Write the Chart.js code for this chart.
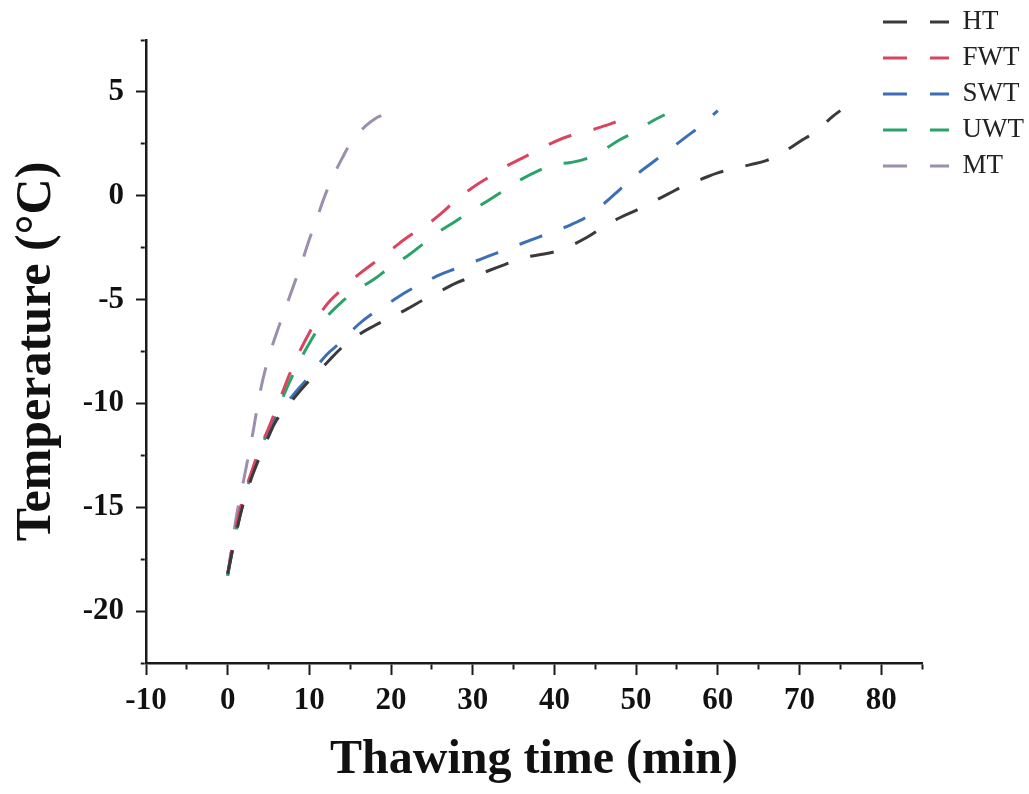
<!DOCTYPE html>
<html>
<head>
<meta charset="utf-8">
<script src="https://cdn.jsdelivr.net/npm/chart.js@4.4.1/dist/chart.umd.min.js"></script>
<style>
  html, body { margin: 0; padding: 0; background: #ffffff; }
  #wrap { width: 1029px; height: 794px; }
</style>
</head>
<body>
<div id="wrap"><canvas id="chartThaw" width="1029" height="794"></canvas></div>
<script>
// Datos (tiempo en min, temperatura en °C)
const htTime  = [0, 1, 2, 3, 4, 5, 6, 8, 10, 12, 14, 16, 18, 20, 22, 24, 26, 28, 30, 32, 34, 36, 38, 40, 42, 44, 46, 48, 50, 52, 54, 56, 58, 60, 62, 64, 66, 68, 70, 72, 74, 75];
const htTemp  = [-18.2, -16.3, -14.7, -13.5, -12.5, -11.6, -10.8, -9.8, -8.9, -8.1, -7.3, -6.7, -6.25, -5.85, -5.45, -5.0, -4.6, -4.2, -3.9, -3.6, -3.3, -3.0, -2.85, -2.7, -2.4, -2.0, -1.5, -1.06, -0.7, -0.3, 0.1, 0.5, 0.8, 1.1, 1.3, 1.5, 1.7, 2.1, 2.6, 3.1, 3.8, 4.1];

const fwtTime = [0, 1, 2, 3, 4, 5, 6, 8, 10, 12, 14, 16, 18, 20, 22, 24, 26, 28, 30, 32, 34, 36, 38, 40, 42, 44, 46, 47.5];
const fwtTemp = [-18.2, -16.0, -14.4, -13.2, -12.1, -11.2, -10.2, -8.2, -6.6, -5.3, -4.5, -3.8, -3.2, -2.6, -2.0, -1.5, -0.9, -0.2, 0.4, 0.9, 1.4, 1.8, 2.2, 2.6, 2.9, 3.1, 3.35, 3.55];

const swtTime = [0, 1, 2, 3, 4, 5, 6, 8, 10, 12, 14, 16, 18, 20, 22, 24, 26, 28, 30, 32, 34, 36, 38, 40, 42, 44, 46, 48, 50, 52, 54, 56, 58, 60];
const swtTemp = [-18.2, -16.3, -14.6, -13.4, -12.4, -11.4, -10.6, -9.6, -8.7, -7.7, -7.0, -6.2, -5.6, -5.1, -4.6, -4.2, -3.8, -3.5, -3.2, -2.9, -2.6, -2.3, -2.0, -1.7, -1.4, -1.0, -0.4, 0.3, 1.0, 1.6, 2.2, 2.8, 3.4, 4.1];

const uwtTime = [0, 1, 2, 3, 4, 5, 6, 8, 10, 12, 14, 16, 18, 20, 22, 24, 26, 28, 30, 32, 34, 36, 38, 40, 42, 44, 46, 48, 50, 52, 53.5];
const uwtTemp = [-18.3, -16.2, -14.6, -13.3, -12.2, -11.3, -10.4, -8.6, -7.1, -5.9, -5.1, -4.5, -4.0, -3.4, -2.9, -2.3, -1.7, -1.2, -0.7, -0.2, 0.3, 0.8, 1.2, 1.5, 1.6, 1.8, 2.2, 2.7, 3.1, 3.6, 3.9];

const mtTime  = [0, 1, 2, 3, 4, 5, 6, 7, 8, 9, 10, 11, 12, 13, 14, 15, 16, 17, 18, 19];
const mtTemp  = [-18.3, -15.6, -13.6, -11.6, -9.4, -7.8, -6.6, -5.5, -4.4, -3.3, -2.1, -1.0, 0.1, 1.0, 1.8, 2.5, 3.0, 3.4, 3.7, 3.9];

const seriesNames  = ['HT', 'FWT', 'SWT', 'UWT', 'MT'];
const seriesColors = ['#3a3a3a', '#d9455f', '#3b6fb6', '#2aa36b', '#9b8fae'];

const xTicks = { min: -10, max: 85, step: 5, labelEvery: 10 };
const yTicks = { min: -22.5, max: 7.5, step: 2.5, labelEvery: 5 };

function toPoints(times, temps) {
    return times.map((t, i) => ({ x: t, y: temps[i] }));
}

const allSeries = [
    toPoints(htTime, htTemp),
    toPoints(fwtTime, fwtTemp),
    toPoints(swtTime, swtTemp),
    toPoints(uwtTime, uwtTemp),
    toPoints(mtTime, mtTemp)
];

Chart.defaults.font.family = "'Liberation Serif', 'Times New Roman', serif";
Chart.defaults.color = '#111111';

const lineDash = [24, 23];

// mueve la leyenda arriba a la derecha, fuera del area del grafico
const moveLegend = {
    id: 'moveLegend',
    afterLayout(chart) {
        const lg = chart.legend;
        const w = lg.width, h = lg.height;
        lg.left = 874;
        lg.top = -0.5;
        lg.right = lg.left + w;
        lg.bottom = lg.top + h;
    }
};

const axisColor = '#1a1a1a';

function isMajor(ctx, every) {
    return ctx.tick && Math.abs(ctx.tick.value % every) < 1e-9;
}

new Chart(document.getElementById('chartThaw'), {
    type: 'line',
    data: {
        datasets: allSeries.map((pts, i) => ({
            label: seriesNames[i],
            data: pts,
            borderColor: seriesColors[i],
            backgroundColor: seriesColors[i],
            borderWidth: 3,
            borderDash: lineDash,
            pointRadius: 0,
            tension: 0.4,
            fill: false
        }))
    },
    options: {
        responsive: false,
        animation: false,
        layout: { padding: { top: 40, right: 107, left: 0, bottom: 0 } },
        plugins: {
            legend: {
                position: 'chartArea',
                align: 'start',
                labels: {
                    usePointStyle: true,
                    pointStyle: 'line',
                    pointStyleWidth: 66,
                    padding: 9,
                    textAlign: 'left',
                    color: '#222222',
                    font: { size: 27, lineHeight: 1.2 },
                    generateLabels(chart) {
                        const items = Chart.defaults.plugins.legend.labels.generateLabels(chart);
                        items.forEach(it => {
                            it.lineDash = lineDash;
                            it.lineWidth = 3;
                            it.strokeStyle = seriesColors[it.datasetIndex];
                        });
                        return items;
                    }
                }
            },
            tooltip: { enabled: false }
        },
        scales: {
            x: {
                type: 'linear',
                min: xTicks.min,
                max: xTicks.max,
                afterFit(scale) { scale.height = 131; },
                border: { color: axisColor, width: 2.5 },
                grid: {
                    drawOnChartArea: false,
                    drawTicks: true,
                    tickLength: 12,
                    tickColor: axisColor,
                    tickWidth: 2,
                    // marcas menores mas cortas
                    tickBorderDash: ctx => (isMajor(ctx, xTicks.labelEvery) ? [] : [5, 100])
                },
                ticks: {
                    stepSize: xTicks.step,
                    autoSkip: false,
                    maxRotation: 0,
                    padding: 7,
                    color: '#111111',
                    font: { size: 31, weight: 'bold' },
                    callback: v => (v % xTicks.labelEvery === 0 ? v : '')
                },
                title: {
                    display: true,
                    text: 'Thawing time (min)',
                    color: '#111111',
                    font: { size: 48, weight: 'bold', lineHeight: 1.2 },
                    padding: { top: 0, bottom: 5 }
                }
            },
            y: {
                type: 'linear',
                min: yTicks.min,
                max: yTicks.max,
                afterFit(scale) { scale.width = 146; },
                border: { color: axisColor, width: 2.5 },
                grid: {
                    drawOnChartArea: false,
                    drawTicks: true,
                    tickLength: 10,
                    tickColor: axisColor,
                    tickWidth: 2,
                    tickBorderDash: ctx => (isMajor(ctx, yTicks.labelEvery) ? [] : [0, 4.75, 4, 100])
                },
                ticks: {
                    stepSize: yTicks.step,
                    autoSkip: false,
                    padding: 12,
                    color: '#111111',
                    font: { size: 31, weight: 'bold' },
                    callback: v => (v % yTicks.labelEvery === 0 ? v : '')
                },
                title: {
                    display: true,
                    text: 'Temperature (°C)',
                    color: '#111111',
                    font: { size: 50, weight: 'bold', lineHeight: 1.2 },
                    padding: { top: 7, bottom: 0 }
                }
            }
        }
    },
    plugins: [moveLegend]
});
</script>
</body>
</html>
